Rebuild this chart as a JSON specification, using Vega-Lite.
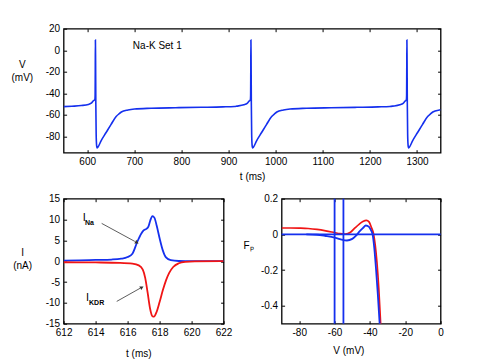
{
  "$schema": "https://vega.github.io/schema/vega-lite/v6.json",
  "padding": {"left": 9.6, "top": 22.7, "right": 5, "bottom": 2},
  "config": {
    "font": "Liberation Sans",
    "view": {"stroke": "#000", "strokeWidth": 1.3},
    "axis": {
      "labelFont": "Liberation Sans", "labelFontSize": 10, "labelColor": "#000",
      "titleFont": "Liberation Sans", "titleFontSize": 10, "titleFontWeight": "normal", "titleColor": "#000",
      "titleAlign": "center", "titleBaseline": "alphabetic",
      "grid": false, "domain": false, "tickColor": "#000", "tickSize": -3, "tickWidth": 1,
      "labelFlush": false, "labelOverlap": false, "labelPadding": 6.5,
      "labelExpr": "'' + datum.value"
    },
    "axisY": {"labelPadding": 7}
  },
  "datasets": {
    "v": [
      {"t": 550, "V": -52.3}, {"t": 567.5, "V": -51.9}, {"t": 587.5, "V": -51.3}, {"t": 602.5, "V": -50.2},
      {"t": 609.5, "V": -48.8}, {"t": 613.5, "V": -46.8}, {"t": 615.5, "V": -46.2}, {"t": 616.5, "V": -45.5},
      {"t": 616.9, "V": -42}, {"t": 617.2, "V": -20}, {"t": 617.5, "V": 9.5}, {"t": 617.9, "V": -10},
      {"t": 618.4, "V": -50}, {"t": 619.1, "V": -78}, {"t": 620, "V": -88}, {"t": 621, "V": -90.5},
      {"t": 622.5, "V": -90}, {"t": 629.5, "V": -84}, {"t": 640.2, "V": -76.3}, {"t": 650.8, "V": -68.7},
      {"t": 661.5, "V": -61.5}, {"t": 667.5, "V": -59}, {"t": 672.5, "V": -57.3}, {"t": 686.5, "V": -55.4},
      {"t": 700.5, "V": -54.5}, {"t": 735.5, "V": -53.8}, {"t": 787.5, "V": -53.3}, {"t": 842.5, "V": -52.9},
      {"t": 887.5, "V": -52.5}, {"t": 912.5, "V": -52.1},
      {"t": 917.5, "V": -51.8}, {"t": 932.5, "V": -50.6}, {"t": 939.5, "V": -49.2}, {"t": 943.5, "V": -47.2},
      {"t": 945.5, "V": -46.4}, {"t": 946.5, "V": -45.5}, {"t": 946.9, "V": -42}, {"t": 947.2, "V": -20},
      {"t": 947.5, "V": 9.5}, {"t": 947.9, "V": -10}, {"t": 948.4, "V": -50}, {"t": 949.1, "V": -78},
      {"t": 950, "V": -88}, {"t": 951, "V": -90.5}, {"t": 952.5, "V": -90}, {"t": 959.5, "V": -84},
      {"t": 970.2, "V": -76.3}, {"t": 980.8, "V": -68.7}, {"t": 991.5, "V": -61.5}, {"t": 997.5, "V": -59},
      {"t": 1002.5, "V": -57.3}, {"t": 1016.5, "V": -55.4}, {"t": 1030.5, "V": -54.5}, {"t": 1065.5, "V": -53.8},
      {"t": 1117.5, "V": -53.3}, {"t": 1172.5, "V": -52.9}, {"t": 1217.5, "V": -52.5}, {"t": 1242.5, "V": -52.1},
      {"t": 1248.5, "V": -51.8}, {"t": 1263.5, "V": -50.6}, {"t": 1270.5, "V": -49.2}, {"t": 1274.5, "V": -47.2},
      {"t": 1276.5, "V": -46.4}, {"t": 1277.5, "V": -45.5}, {"t": 1277.9, "V": -42}, {"t": 1278.2, "V": -20},
      {"t": 1278.5, "V": 9.5}, {"t": 1278.9, "V": -10}, {"t": 1279.4, "V": -50}, {"t": 1280.1, "V": -78},
      {"t": 1281, "V": -88}, {"t": 1282, "V": -90.5}, {"t": 1283.5, "V": -90}, {"t": 1290.5, "V": -84},
      {"t": 1301.2, "V": -76.3}, {"t": 1311.8, "V": -68.7}, {"t": 1322.5, "V": -61.5}, {"t": 1328.5, "V": -59},
      {"t": 1333.5, "V": -57.3}, {"t": 1347.5, "V": -55.4}, {"t": 1350, "V": -55.2}
    ],
    "cur": [
      {"t": 612, "I": 0.15, "series": "INa"}, {"t": 613, "I": 0.2, "series": "INa"}, {"t": 614, "I": 0.3, "series": "INa"},
      {"t": 615, "I": 0.4, "series": "INa"}, {"t": 615.6, "I": 0.6, "series": "INa"}, {"t": 616.0, "I": 1.0, "series": "INa"},
      {"t": 616.3, "I": 1.8, "series": "INa"}, {"t": 616.6, "I": 4.6, "series": "INa"}, {"t": 616.85, "I": 6.6, "series": "INa"},
      {"t": 617.0, "I": 7.4, "series": "INa"}, {"t": 617.15, "I": 7.7, "series": "INa"}, {"t": 617.3, "I": 8.3, "series": "INa"},
      {"t": 617.42, "I": 9.8, "series": "INa"}, {"t": 617.55, "I": 10.8, "series": "INa"}, {"t": 617.68, "I": 10.4, "series": "INa"},
      {"t": 617.82, "I": 8.5, "series": "INa"}, {"t": 618.0, "I": 5.5, "series": "INa"}, {"t": 618.2, "I": 2.6, "series": "INa"},
      {"t": 618.4, "I": 0.9, "series": "INa"}, {"t": 618.7, "I": 0.25, "series": "INa"}, {"t": 619.2, "I": 0.05, "series": "INa"},
      {"t": 620, "I": 0, "series": "INa"}, {"t": 622, "I": 0, "series": "INa"},
      {"t": 612, "I": -0.25, "series": "IKDR"}, {"t": 614, "I": -0.3, "series": "IKDR"}, {"t": 615.5, "I": -0.4, "series": "IKDR"},
      {"t": 616.3, "I": -0.6, "series": "IKDR"}, {"t": 616.7, "I": -1.0, "series": "IKDR"}, {"t": 616.95, "I": -2.0, "series": "IKDR"},
      {"t": 617.1, "I": -4, "series": "IKDR"}, {"t": 617.25, "I": -7.5, "series": "IKDR"}, {"t": 617.4, "I": -11.3, "series": "IKDR"},
      {"t": 617.55, "I": -13.2, "series": "IKDR"}, {"t": 617.65, "I": -13.3, "series": "IKDR"}, {"t": 617.8, "I": -12.3, "series": "IKDR"},
      {"t": 618.0, "I": -9.8, "series": "IKDR"}, {"t": 618.2, "I": -7.0, "series": "IKDR"}, {"t": 618.4, "I": -4.6, "series": "IKDR"},
      {"t": 618.6, "I": -2.8, "series": "IKDR"}, {"t": 618.85, "I": -1.4, "series": "IKDR"}, {"t": 619.2, "I": -0.5, "series": "IKDR"},
      {"t": 619.6, "I": -0.15, "series": "IKDR"}, {"t": 620.2, "I": -0.03, "series": "IKDR"}, {"t": 622, "I": 0, "series": "IKDR"}
    ],
    "fp": [
      {"V": -90, "F": 0.036, "series": "red"}, {"V": -85, "F": 0.036, "series": "red"}, {"V": -80, "F": 0.035, "series": "red"},
      {"V": -75, "F": 0.033, "series": "red"}, {"V": -70, "F": 0.028, "series": "red"}, {"V": -65, "F": 0.02, "series": "red"},
      {"V": -60, "F": 0.01, "series": "red"}, {"V": -57, "F": 0.004, "series": "red"}, {"V": -54, "F": 0.002, "series": "red"},
      {"V": -51, "F": 0.012, "series": "red"}, {"V": -48.5, "F": 0.036, "series": "red"}, {"V": -46, "F": 0.058, "series": "red"},
      {"V": -44, "F": 0.072, "series": "red"}, {"V": -42, "F": 0.079, "series": "red"}, {"V": -40.5, "F": 0.07, "series": "red"},
      {"V": -39.2, "F": 0.04, "series": "red"}, {"V": -38, "F": 0.005, "series": "red"}, {"V": -37, "F": -0.06, "series": "red"},
      {"V": -36, "F": -0.16, "series": "red"}, {"V": -35, "F": -0.3, "series": "red"}, {"V": -34.2, "F": -0.45, "series": "red"},
      {"V": -33.8, "F": -0.53, "series": "red"},
      {"V": -76, "F": 0.0, "series": "blue"}, {"V": -70, "F": -0.002, "series": "blue"}, {"V": -65, "F": -0.009, "series": "blue"},
      {"V": -60, "F": -0.018, "series": "blue"}, {"V": -57, "F": -0.026, "series": "blue"}, {"V": -53, "F": -0.034, "series": "blue"},
      {"V": -50, "F": -0.025, "series": "blue"}, {"V": -48, "F": -0.008, "series": "blue"}, {"V": -46, "F": 0.015, "series": "blue"},
      {"V": -44, "F": 0.035, "series": "blue"}, {"V": -42.3, "F": 0.05, "series": "blue"}, {"V": -40.5, "F": 0.042, "series": "blue"},
      {"V": -39.5, "F": 0.025, "series": "blue"}, {"V": -38.5, "F": 0.0, "series": "blue"}, {"V": -37.5, "F": -0.08, "series": "blue"},
      {"V": -36.5, "F": -0.2, "series": "blue"}, {"V": -35.5, "F": -0.34, "series": "blue"}, {"V": -34.5, "F": -0.5, "series": "blue"},
      {"V": -34.2, "F": -0.55, "series": "blue"}
    ]
  },
  "bounds": "flush",
  "spacing": 46,
  "vconcat": [
    {
      "width": 377, "height": 124,
      "layer": [
        {
          "data": {"name": "v"},
          "mark": {"type": "line", "color": "#1530ee", "strokeWidth": 1.6, "clip": true, "interpolate": "monotone"},
          "encoding": {
            "x": {"field": "t", "type": "quantitative", "scale": {"domain": [550, 1350], "nice": false, "zero": false},
                  "axis": {"orient": "bottom", "values": [600, 700, 800, 900, 1000, 1100, 1200, 1300], "title": "t (ms)", "titleX": 188.5, "titleY": 26.5}},
            "y": {"field": "V", "type": "quantitative", "scale": {"domain": [-95, 20], "nice": false, "zero": false},
                  "axis": {"orient": "left", "values": [-80, -60, -40, -20, 0, 20], "title": ["V", "(mV)"], "titleAngle": 0, "titleX": -41.8, "titleY": 39, "titleLineHeight": 12.5}}
          }
        },
        {
          "data": {"name": "v"},
          "mark": {"type": "point", "opacity": 0},
          "encoding": {
            "x": {"field": "t", "type": "quantitative", "axis": {"orient": "top", "values": [600, 700, 800, 900, 1000, 1100, 1200, 1300], "labels": false, "title": null}},
            "y": {"field": "V", "type": "quantitative", "axis": {"orient": "right", "values": [-80, -60, -40, -20, 0, 20], "labels": false, "title": null}}
          }
        },
        {
          "data": {"values": [{"t": 697, "V": 1, "label": "Na-K Set 1"}]},
          "mark": {"type": "text", "align": "left", "baseline": "alphabetic", "fontSize": 10, "color": "#000"},
          "encoding": {
            "x": {"field": "t", "type": "quantitative", "axis": null},
            "y": {"field": "V", "type": "quantitative", "axis": null},
            "text": {"field": "label"}
          }
        }
      ],
      "resolve": {"axis": {"x": "independent", "y": "independent"}}
    },
    {
      "bounds": "flush",
      "spacing": 58,
      "hconcat": [
        {
          "width": 160, "height": 125,
          "layer": [
            {
              "data": {"name": "cur"},
              "transform": [{"filter": "datum.series == 'INa'"}],
              "mark": {"type": "line", "color": "#1530ee", "strokeWidth": 1.8, "clip": true, "interpolate": "monotone"},
              "encoding": {
                "x": {"field": "t", "type": "quantitative", "scale": {"domain": [612, 622], "nice": false, "zero": false},
                      "axis": {"orient": "bottom", "values": [612, 614, 616, 618, 620, 622], "title": "t (ms)", "titleX": 74.7, "titleY": 32.7}},
                "y": {"field": "I", "type": "quantitative", "scale": {"domain": [-15, 15], "nice": false, "zero": false},
                      "axis": {"orient": "left", "values": [-15, -10, -5, 0, 5, 10, 15], "title": ["I", "(nA)"], "titleAngle": 0, "titleX": -41.5, "titleY": 56.7, "titleLineHeight": 13}}
              }
            },
            {
              "data": {"name": "cur"},
              "transform": [{"filter": "datum.series == 'IKDR'"}],
              "mark": {"type": "line", "color": "#f01515", "strokeWidth": 1.8, "clip": true, "interpolate": "monotone"},
              "encoding": {
                "x": {"field": "t", "type": "quantitative", "axis": {"orient": "top", "values": [612, 614, 616, 618, 620, 622], "labels": false, "title": null}},
                "y": {"field": "I", "type": "quantitative", "axis": {"orient": "right", "values": [-15, -10, -5, 0, 5, 10, 15], "labels": false, "title": null}}
              }
            },
            {
              "data": {"values": [
                {"t": 614.38, "I": 9.07, "t2": 616.45, "I2": 4.75},
                {"t": 615.32, "I": -9.65, "t2": 616.78, "I2": -6.5}
              ]},
              "mark": {"type": "rule", "color": "#333", "strokeWidth": 0.8},
              "encoding": {
                "x": {"field": "t", "type": "quantitative", "axis": null},
                "y": {"field": "I", "type": "quantitative", "axis": null},
                "x2": {"field": "t2"},
                "y2": {"field": "I2"}
              }
            },
            {
              "data": {"values": [{"t": 616.55, "I": 4.55}]},
              "mark": {"type": "point", "shape": "triangle", "filled": true, "color": "#333", "size": 18, "angle": 118, "opacity": 1},
              "encoding": {
                "x": {"field": "t", "type": "quantitative", "axis": null},
                "y": {"field": "I", "type": "quantitative", "axis": null}
              }
            },
            {
              "data": {"values": [{"t": 616.86, "I": -6.35}]},
              "mark": {"type": "point", "shape": "triangle", "filled": true, "color": "#333", "size": 18, "angle": 61, "opacity": 1},
              "encoding": {
                "x": {"field": "t", "type": "quantitative", "axis": null},
                "y": {"field": "I", "type": "quantitative", "axis": null}
              }
            },
            {
              "data": {"values": [{"t": 613.19, "I": 9.72, "label": "I"}, {"t": 613.4, "I": -9.65, "label": "I"}]},
              "mark": {"type": "text", "align": "left", "baseline": "alphabetic", "fontSize": 11, "color": "#000"},
              "encoding": {
                "x": {"field": "t", "type": "quantitative", "axis": null},
                "y": {"field": "I", "type": "quantitative", "axis": null},
                "text": {"field": "label"}
              }
            },
            {
              "data": {"values": [{"t": 613.34, "I": 8.76, "label": "Na"}, {"t": 613.59, "I": -10.6, "label": "KDR"}]},
              "mark": {"type": "text", "align": "left", "baseline": "alphabetic", "fontSize": 7, "fontWeight": "bold", "color": "#000"},
              "encoding": {
                "x": {"field": "t", "type": "quantitative", "axis": null},
                "y": {"field": "I", "type": "quantitative", "axis": null},
                "text": {"field": "label"}
              }
            }
          ],
          "resolve": {"axis": {"x": "independent", "y": "independent"}}
        },
        {
          "width": 159, "height": 125,
          "layer": [
            {
              "data": {"name": "fp"},
              "transform": [{"filter": "datum.series == 'red'"}],
              "mark": {"type": "line", "color": "#f01515", "strokeWidth": 1.7, "clip": true, "interpolate": "monotone"},
              "encoding": {
                "x": {"field": "V", "type": "quantitative", "scale": {"domain": [-90, 0], "nice": false, "zero": false},
                      "axis": {"orient": "bottom", "values": [-80, -60, -40, -20, 0], "title": "V (mV)", "titleX": 66.8, "titleY": 30.3}},
                "y": {"field": "F", "type": "quantitative", "scale": {"domain": [-0.5, 0.2], "nice": false, "zero": false},
                      "axis": {"orient": "left", "values": [-0.4, -0.2, 0, 0.2], "title": "Fₚ", "titleAngle": 0, "titleX": -33.5, "titleY": 49.4}}
              }
            },
            {
              "data": {"name": "fp"},
              "transform": [{"filter": "datum.series == 'blue'"}],
              "mark": {"type": "line", "color": "#1530ee", "strokeWidth": 1.8, "clip": true, "interpolate": "monotone"},
              "encoding": {
                "x": {"field": "V", "type": "quantitative", "axis": {"orient": "top", "values": [-80, -60, -40, -20, 0], "labels": false, "title": null}},
                "y": {"field": "F", "type": "quantitative", "axis": {"orient": "right", "values": [-0.4, -0.2, 0, 0.2], "labels": false, "title": null}}
              }
            },
            {
              "data": {"values": [{"V": -60}, {"V": -55}]},
              "mark": {"type": "rule", "color": "#1530ee", "strokeWidth": 1.8},
              "encoding": {"x": {"field": "V", "type": "quantitative", "axis": null}}
            },
            {
              "data": {"values": [{"F": 0}]},
              "mark": {"type": "rule", "color": "#1530ee", "strokeWidth": 1.8},
              "encoding": {"y": {"field": "F", "type": "quantitative", "axis": null}}
            }
          ],
          "resolve": {"axis": {"x": "independent", "y": "independent"}}
        }
      ]
    }
  ]
}
